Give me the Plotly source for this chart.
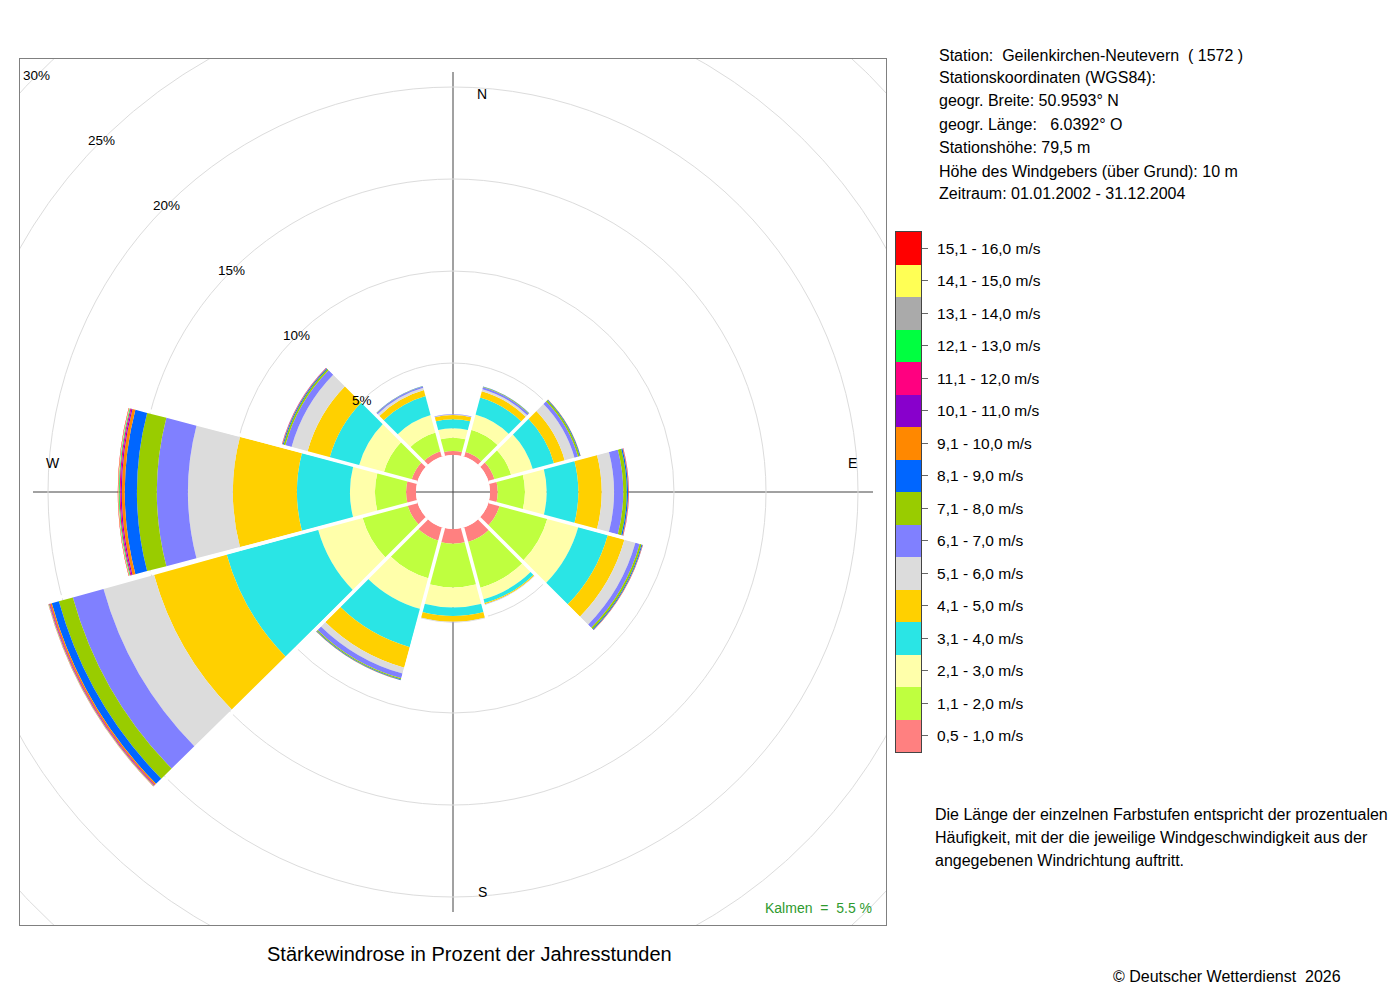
import numpy as np
import plotly.graph_objects as go

# wind directions (degrees, clockwise from north)
directions = [0, 30, 60, 90, 120, 150, 180, 210, 240, 270, 300, 330]

speed_labels = ["0,5 - 1,0 m/s", "1,1 - 2,0 m/s", "2,1 - 3,0 m/s", "3,1 - 4,0 m/s",
                "4,1 - 5,0 m/s", "5,1 - 6,0 m/s", "6,1 - 7,0 m/s", "7,1 - 8,0 m/s",
                "8,1 - 9,0 m/s", "9,1 - 10,0 m/s", "10,1 - 11,0 m/s", "11,1 - 12,0 m/s",
                "12,1 - 13,0 m/s", "13,1 - 14,0 m/s", "14,1 - 15,0 m/s", "15,1 - 16,0 m/s"]
speed_colors = ["#ff8080", "#bfff3f", "#ffffaa", "#2ae5e5", "#ffd000", "#dcdcdc",
                "#8080ff", "#99cc00", "#0066ff", "#ff8800", "#8800cc", "#ff0080",
                "#00ff40", "#aaaaaa", "#ffff55", "#ff0000"]

# percent of the year's hours, per speed class, for each direction above
s_05_10 = [0.22, 0.27, 0.35, 0.42, 0.63, 0.83, 0.80, 0.75, 0.56, 0.54, 0.34, 0.30]
s_11_20 = [0.72, 1.24, 0.93, 1.48, 2.69, 2.57, 2.37, 2.12, 2.54, 1.69, 1.56, 1.06]
s_21_30 = [0.51, 0.86, 1.22, 1.18, 1.74, 0.65, 1.09, 1.72, 2.50, 1.36, 1.40, 0.98]
s_31_40 = [0.49, 0.96, 1.20, 1.72, 1.66, 0.22, 0.47, 2.15, 5.15, 2.88, 1.65, 1.08]
s_41_50 = [0.23, 0.35, 0.60, 1.27, 0.94, 0.06, 0.31, 1.16, 4.10, 3.48, 1.25, 0.33]
s_51_60 = [0.03, 0.12, 0.55, 0.67, 0.62, 0.02, 0.03, 0.33, 2.85, 2.44, 0.90, 0.13]
s_61_70 = [0.03, 0.11, 0.20, 0.50, 0.24, 0.01, 0.01, 0.27, 1.73, 1.69, 0.35, 0.07]
s_71_80 = [0.00, 0.03, 0.10, 0.19, 0.11, 0.00, 0.00, 0.07, 0.79, 1.08, 0.10, 0.02]
s_81_90 = [0.00, 0.01, 0.04, 0.07, 0.05, 0.00, 0.00, 0.03, 0.40, 0.66, 0.05, 0.01]
s_91_100 = [0.00, 0.00, 0.01, 0.03, 0.02, 0.00, 0.00, 0.01, 0.08, 0.16, 0.03, 0.00]
s_101_110 = [0.00, 0.00, 0.00, 0.01, 0.01, 0.00, 0.00, 0.00, 0.03, 0.06, 0.01, 0.00]
s_111_120 = [0.00, 0.00, 0.00, 0.01, 0.00, 0.00, 0.00, 0.00, 0.04, 0.06, 0.01, 0.00]
s_121_130 = [0.00, 0.00, 0.00, 0.00, 0.00, 0.00, 0.00, 0.00, 0.02, 0.04, 0.00, 0.00]
s_131_140 = [0.00, 0.00, 0.00, 0.00, 0.00, 0.00, 0.00, 0.00, 0.01, 0.02, 0.00, 0.00]
s_141_150 = [0.00, 0.00, 0.00, 0.00, 0.00, 0.00, 0.00, 0.00, 0.01, 0.02, 0.00, 0.00]
s_151_160 = [0.00, 0.00, 0.00, 0.00, 0.00, 0.00, 0.00, 0.00, 0.01, 0.02, 0.00, 0.00]

calms = 5.5

ring_values = [5, 10, 15, 20, 25, 30]

station_lines = ["Station:  Geilenkirchen-Neutevern  ( 1572 )",
                 "Stationskoordinaten (WGS84):",
                 "geogr. Breite: 50.9593° N",
                 "geogr. Länge:   6.0392° O",
                 "Stationshöhe: 79,5 m",
                 "Höhe des Windgebers (über Grund): 10 m",
                 "Zeitraum: 01.01.2002 - 31.12.2004"]
note_lines = ["Die Länge der einzelnen Farbstufen entspricht der prozentualen",
              "Häufigkeit, mit der die jeweilige Windgeschwindigkeit aus der",
              "angegebenen Windrichtung auftritt."]

all_classes = [s_05_10, s_11_20, s_21_30, s_31_40, s_41_50, s_51_60, s_61_70, s_71_80,
               s_81_90, s_91_100, s_101_110, s_111_120, s_121_130, s_131_140,
               s_141_150, s_151_160]

FONT = "Liberation Sans, Arial, sans-serif"
W, H = 1400, 1000
# square plot box in pixels
BOX_L, BOX_T, BOX = 20, 59, 866
HALF = BOX / 2
HOLE_PX = 37          # radius of the calm circle
PX_PER_PCT = 18.4
R_MAX = (HALF - HOLE_PX) / PX_PER_PCT

box_x = [BOX_L / W, (BOX_L + BOX) / W]
box_y = [1 - (BOX_T + BOX) / H, 1 - BOX_T / H]


def ring_px(p):
    return HOLE_PX + PX_PER_PCT * p


fig = go.Figure()

# outer rings that only show in the corners of the box
t = np.linspace(0, 2 * np.pi, 721)
for p in ring_values:
    if ring_px(p) > HALF:
        fig.add_trace(go.Scatter(x=ring_px(p) * np.cos(t), y=ring_px(p) * np.sin(t),
                                 mode="lines", line=dict(color="#dcdcdc", width=1),
                                 hoverinfo="skip", showlegend=False))

# N-S and E-W axes
fig.add_trace(go.Scatter(x=[-420, 420, None, 0, 0], y=[0, 0, None, -420, 420],
                         mode="lines", line=dict(color="#444444", width=1),
                         hoverinfo="skip", showlegend=False))

# stacked sectors
for vals, col, name in zip(all_classes, speed_colors, speed_labels):
    fig.add_trace(go.Barpolar(r=vals, theta=directions, width=29, name=name,
                              marker=dict(color=col, line=dict(width=0)),
                              showlegend=False))

# white separation between the sectors
totals = np.sum(np.array(all_classes), axis=0)
for k in range(len(directions)):
    rr = max(totals[k], totals[(k + 1) % len(directions)]) + 0.3
    th = directions[k] + 15
    fig.add_trace(go.Scatterpolar(r=[0, rr], theta=[th, th], mode="lines",
                                  line=dict(color="white", width=3.5),
                                  hoverinfo="skip", showlegend=False))

# colour key
n = len(speed_labels)
cscale = []
for i, c in enumerate(speed_colors):
    cscale.append([i / n, c])
    cscale.append([(i + 1) / n, c])
fig.add_trace(go.Heatmap(z=[[i] for i in range(n)], x=[0], y=list(range(n)),
                         xaxis="x2", yaxis="y2", colorscale=cscale,
                         zmin=-0.5, zmax=n - 0.5, showscale=False, hoverinfo="skip"))

ann = []
for p in ring_values:
    d = ring_px(p) * np.sqrt(0.5)
    ann.append(dict(x=-d, y=d, xref="x", yref="y", text=f"{p}%", showarrow=False,
                    font=dict(size=13.5, color="black")))

for lab, x, y in [("N", 29, 398), ("E", 399, 29), ("S", 29, -400), ("W", -400, 29)]:
    ann.append(dict(x=x, y=y, xref="x", yref="y", text=lab, showarrow=False,
                    font=dict(size=14, color="black")))

ann.append(dict(x=874 / W, y=1 - 908 / H, xref="paper", yref="paper",
                xanchor="right", yanchor="middle", showarrow=False,
                text=f"Kalmen  =  {calms} %", font=dict(size=14, color="#2e9a2e")))

for i, line in enumerate(station_lines):
    ys = [55, 78, 101, 124, 147, 171, 194][i]
    ann.append(dict(x=937 / W, y=1 - ys / H, xref="paper", yref="paper",
                    xanchor="left", yanchor="middle", showarrow=False, text=line,
                    font=dict(size=16, color="black")))

for i, line in enumerate(note_lines):
    ann.append(dict(x=933 / W, y=1 - (814 + 23 * i) / H, xref="paper", yref="paper",
                    xanchor="left", yanchor="middle", showarrow=False, text=line,
                    font=dict(size=16, color="black")))

ann.append(dict(x=470 / W, y=1 - 954 / H, xref="paper", yref="paper",
                xanchor="center", yanchor="middle", showarrow=False,
                text="Stärkewindrose in Prozent der Jahresstunden",
                font=dict(size=20, color="black")))
ann.append(dict(x=1343 / W, y=1 - 976 / H, xref="paper", yref="paper",
                xanchor="right", yanchor="middle", showarrow=False,
                text="© Deutscher Wetterdienst  2026",
                font=dict(size=16, color="black")))

fig.update_layout(
    width=W, height=H,
    margin=dict(l=0, r=0, t=0, b=0),
    paper_bgcolor="white", plot_bgcolor="white",
    font=dict(family=FONT, color="black"),
    showlegend=False,
    xaxis=dict(domain=box_x, range=[-HALF, HALF], showgrid=False, zeroline=False,
               showticklabels=False, ticks="", showline=True, mirror=True,
               linecolor="#808080", linewidth=1, fixedrange=True),
    yaxis=dict(domain=box_y, range=[-HALF, HALF], showgrid=False, zeroline=False,
               showticklabels=False, ticks="", showline=True, mirror=True,
               linecolor="#808080", linewidth=1, fixedrange=True),
    xaxis2=dict(domain=[896 / W, 921 / W], anchor="y2", range=[-0.5, 0.5],
                showgrid=False, zeroline=False, showticklabels=False, ticks="",
                showline=True, mirror=True, linecolor="#444444", fixedrange=True),
    yaxis2=dict(domain=[1 - 752 / H, 1 - 232 / H], anchor="x2", side="right",
                range=[-0.5, n - 0.5], tickvals=list(range(n)), ticktext=speed_labels,
                ticks="outside", ticklen=6, tickcolor="#666666", ticklabelstandoff=6,
                tickfont=dict(size=15.5, color="black"), showgrid=False, zeroline=False,
                showline=True, mirror=True, linecolor="#444444", fixedrange=True),
    polar=dict(
        domain=dict(x=box_x, y=box_y),
        hole=HOLE_PX / HALF,
        bgcolor="rgba(0,0,0,0)",
        barmode="stack",
        radialaxis=dict(range=[0, R_MAX], tickvals=[p for p in ring_values if p < R_MAX],
                        showticklabels=False, ticks="", showline=False,
                        gridcolor="#dcdcdc", gridwidth=1),
        angularaxis=dict(rotation=90, direction="clockwise", showgrid=False,
                         showticklabels=False, ticks="", showline=False),
    ),
    annotations=ann,
)

# the page's default body margin would shift the figure by 8px
fig.write_html("out.html", config={"displayModeBar": False},
               post_script="document.body.style.margin = '0';")
